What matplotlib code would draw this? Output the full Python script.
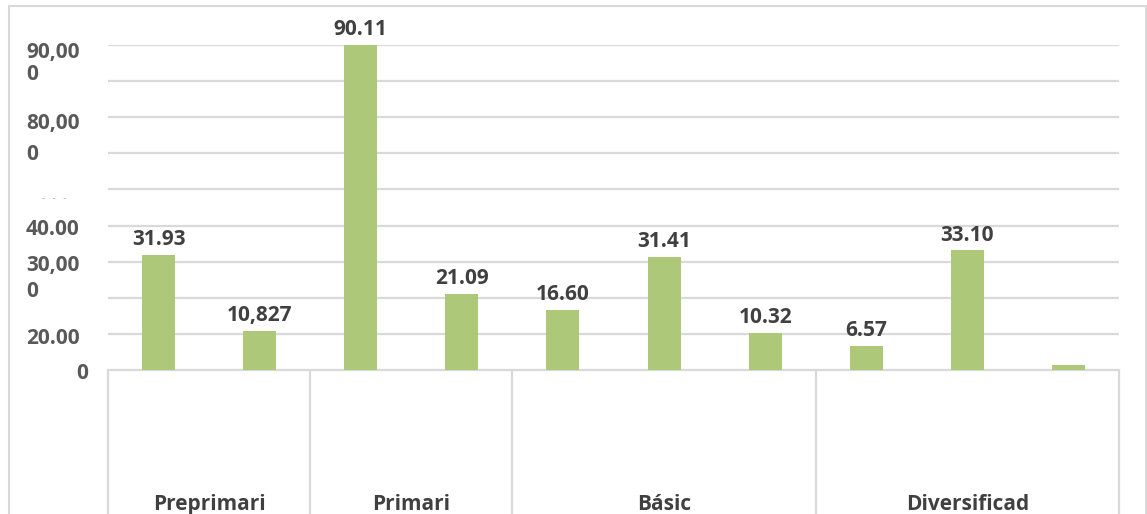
import matplotlib
matplotlib.use('Agg')
import numpy as np
import matplotlib.pyplot as plt
from matplotlib.patches import Rectangle
from matplotlib.transforms import blended_transform_factory

## chart data ##
values = [31.93, 10.827, 90.11, 21.09, 16.60, 31.41, 10.32, 6.57, 33.10, 1.4]
bar_labels = ['31.93', '10,827', '90.11', '21.09', '16.60', '31.41', '10.32', '6.57', '33.10', '']
groups = ['Preprimari', 'Primari', 'Básic', 'Diversificad']
group_sizes = [2, 2, 3, 3]
ytick_texts = ['90,00', '0', '80,00', '0', '-   -   -', '40.00', '30,00', '0', '20.00']
ytick_pos = [87.95, 81.9, 68.4, 59.6, 47.4, 38.9, 28.9, 21.7, 8.7]

bar_col = '#adc878'
grid_col = '#d9d9d9'
txt_col = '#404040'
fnt = ['Open Sans', 'DejaVu Sans']

plt.rcParams['font.family'] = fnt

fig = plt.figure(figsize=(11.47, 5.14), dpi=100)
W, H = 1147., 514.
ax = fig.add_axes([108/W, (H-370)/H, (1119-108)/W, (370-45)/H])

x = np.arange(len(values))
ax.bar(x, values, width=0.327, color=bar_col, zorder=3)
ax.set_xlim(-0.5, len(values) - 0.5)
ax.set_ylim(0, 90)

for yy in np.arange(10, 91, 10):
    ax.axhline(yy, color=grid_col, lw=1.6, zorder=1)
for s in ax.spines.values():
    s.set_visible(False)
ax.set_xticks([])
ax.set_yticks([])

# bar labels
for xi, v, lb in zip(x, values, bar_labels):
    if lb:
        ax.annotate(lb, (xi, v), xytext=(0, 11), textcoords='offset points',
                    ha='center', va='center', fontsize=15, fontweight='bold',
                    color=txt_col, annotation_clip=False)

# category box below the baseline
edges = np.concatenate([[0], np.cumsum(group_sizes)]) - 0.5
ax.plot([edges[0], edges[-1]], [0, 0], color=grid_col, lw=1.6, clip_on=False, zorder=2)
ax.vlines(edges, -45, 0, color=grid_col, lw=1.6, clip_on=False)
for g, a, b in zip(groups, edges[:-1], edges[1:]):
    ax.text((a + b) / 2, -37.2, g, ha='center', va='center', fontsize=15,
            fontweight='bold', color=txt_col, clip_on=False)

# mangled y labels
tr = blended_transform_factory(fig.transFigure, ax.transData)
for t, yp in zip(ytick_texts, ytick_pos):
    if t.startswith('-'):
        ax.text(42/W, yp, t, transform=tr, ha='left', va='center', fontsize=7,
                color='#aaaaaa', clip_on=False)
    else:
        ax.text(26/W, yp, t, transform=tr, ha='left', va='center', fontsize=15,
                fontweight='bold', color='#595959', clip_on=False)
ax.text(76/W, -1.0, '0', transform=tr, ha='left', va='center', fontsize=15,
        fontweight='bold', color='#595959', clip_on=False)

# outer frame
fig.patches.append(Rectangle((9/W, -0.1), 1137/W, (H-6)/H + 0.1, transform=fig.transFigure,
                             fill=False, edgecolor=grid_col, lw=1.5))

plt.savefig('out.png', dpi=100)
